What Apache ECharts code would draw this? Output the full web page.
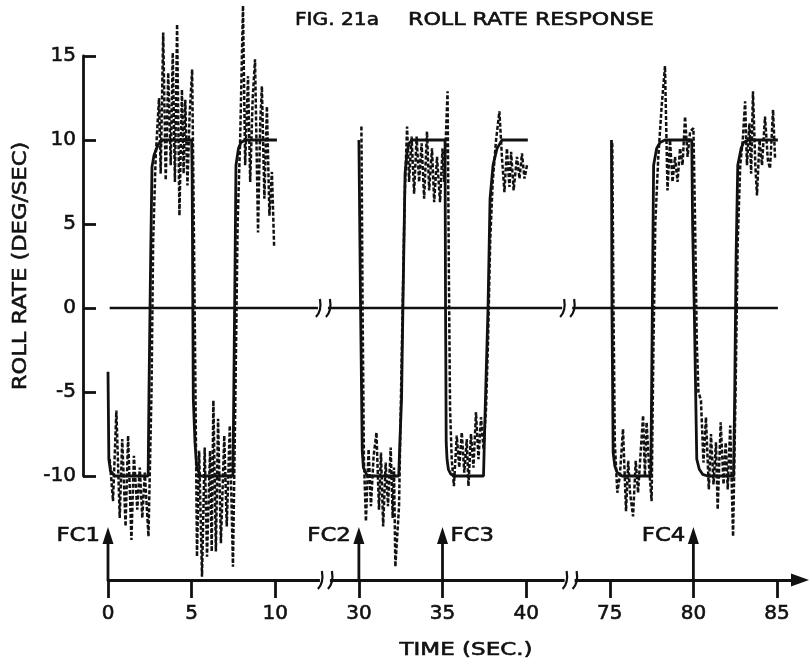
<!DOCTYPE html>
<html>
<head>
<meta charset="utf-8">
<script src="https://cdn.jsdelivr.net/npm/echarts@6.0.0/dist/echarts.min.js"></script>
<style>html,body{margin:0;padding:0;background:#fff}#c{width:812px;height:663px}</style>
</head>
<body>
<div id="c"></div>
<script>
// ---------------- data (time in seconds, roll rate in deg/sec) ----------------
const yTicks = [-10, -5, 0, 5, 10, 15];
const timeTicks = [0, 5, 10, 30, 35, 40, 75, 80, 85];

// command (solid) segments
const cmd1T = [0, 0.05, 0.15, 0.4, 2.4, 2.45, 2.55, 2.63, 2.75, 2.9, 3.05, 3.3, 5.0, 5.03, 5.1, 5.2, 5.3, 5.5, 7.47, 7.52, 7.6, 7.65, 7.8, 7.95, 8.2, 10.1];
const cmd1V = [-3.8, -9.0, -9.7, -10, -10, -5, 3, 8.4, 9.1, 9.5, 9.8, 10, 10, 8, -5.4, -8, -9.4, -10, -10, -5, 3, 8.5, 9.5, 9.85, 10, 10];
const cmd2T = [30.0, 30.1, 30.2, 30.27, 30.5, 32.38, 32.45, 32.55, 32.63, 32.76, 32.88, 33.0, 33.2, 35.15, 35.18, 35.22, 35.27, 35.35, 35.5, 35.75, 37.45, 37.55, 37.72, 37.84, 38.02, 38.26, 38.56, 40.1];
const cmd2V = [10, 0, -8.5, -9.5, -10, -10, -8, -5.4, 0, 8, 9.3, 9.8, 10, 10, 0, -8, -9.0, -9.6, -9.9, -10, -10, -6, 0, 6.5, 8.5, 9.5, 10, 10];
const cmd3T = [75.1, 75.13, 75.2, 75.3, 75.45, 75.73, 77.45, 77.5, 77.57, 77.62, 77.8, 78.0, 78.3, 79.9, 79.95, 80.05, 80.2, 80.35, 80.55, 80.85, 82.4, 82.47, 82.55, 82.65, 82.85, 83.0, 83.27, 85.05];
const cmd3V = [10, 0, -8.6, -9.4, -9.8, -10, -10, -5, 3, 8.5, 9.5, 9.85, 10, 10, 5, 0, -9, -9.6, -9.9, -10, -10, -5, 3, 8.5, 9.5, 9.85, 10, 10];

// response (dashed) segments
const rsp1T = [0.1,0.3,0.5,0.7,0.85,1.05,1.2,1.4,1.55,1.75,1.9,2.05,2.2,2.42,2.6,2.7,2.85,3.05,3.15,3.3,3.45,3.6,3.75,3.87,4.0,4.13,4.27,4.42,4.52,4.62,4.75,4.88,5.03,5.12,5.22,5.32,5.45,5.62,5.78,5.92,6.1,6.2,6.3,6.45,6.58,6.75,6.95,7.1,7.28,7.47,7.62,7.75,7.9,8.07,8.2,8.37,8.5,8.65,8.79,8.97,9.1,9.2,9.35,9.5,9.65,9.8,9.93];
const rsp1V = [-9.0,-11.5,-6.1,-12.5,-7.8,-13.0,-7.6,-13.8,-8.8,-12.0,-9.5,-12.5,-9.8,-13.6,-5,4,9,12.5,8.0,16.4,7.6,14.0,8.5,15.2,7.5,16.9,5.5,13.0,8.0,12.4,7.3,11.5,14.2,6,-4,-14.8,-8.5,-16.0,-8.3,-14.8,-8.5,-14.5,-5.5,-14.5,-6.6,-14.0,-7.6,-13.0,-7.0,-15.4,-5,5,10,18.0,8.5,13.8,7.5,12.5,14.8,4.5,11,13.2,6.5,12.0,5.5,8.1,3.7];
const rsp2T = [30.15,30.22,30.3,30.42,30.58,30.72,30.88,31.05,31.2,31.32,31.45,31.6,31.74,31.9,32.02,32.1,32.18,32.4,32.52,32.65,32.75,32.88,33.0,33.15,33.3,33.45,33.6,33.75,33.9,34.07,34.2,34.37,34.5,34.67,34.85,35.0,35.1,35.3,35.38,35.45,35.55,35.68,35.85,36.0,36.15,36.3,36.45,36.55,36.7,36.85,37.0,37.15,37.3,37.45,37.6,37.72,37.85,38.0,38.2,38.4,38.55,38.7,38.85,39.0,39.1,39.25,39.45,39.6,39.75,39.9,40.05];
const rsp2V = [10.8,0,-9,-12.7,-8.4,-11.8,-8.8,-7.4,-12.0,-8.6,-13.0,-9.2,-11.8,-8.3,-12.5,-9.5,-15.4,-11.8,-5,2,7,10.8,7.5,10.2,6.8,10.2,7.5,9.8,6.5,10.5,7.0,9.5,6.3,9.0,6.3,9.5,7.5,12.9,2,-6,-9,-10.6,-7.6,-9.5,-7.4,-9.8,-7.8,-10.6,-7.5,-9.5,-6.2,-9.0,-6.5,-8.4,-6.0,-2,4,7.5,10,11.7,9.0,6.9,9.5,7.2,9.3,7.0,9.0,7.7,9.2,7.7,8.5];
const rsp3T = [75.15,75.22,75.3,75.45,75.6,75.79,75.97,76.1,76.21,76.39,76.55,76.69,76.85,76.99,77.1,77.2,77.35,77.5,77.6,77.72,77.9,78.1,78.3,78.45,78.6,78.75,78.9,79.05,79.2,79.35,79.5,79.65,79.8,80.0,80.1,80.2,80.3,80.45,80.6,80.75,80.92,81.05,81.2,81.35,81.45,81.63,81.8,81.93,82.05,82.2,82.37,82.52,82.65,82.8,82.95,83.09,83.2,83.35,83.45,83.56,83.7,83.8,83.95,84.1,84.28,84.45,84.58,84.76,84.88];
const rsp3V = [9.8,0,-8,-11.0,-10.0,-7.2,-12.1,-9.1,-11.0,-12.4,-9.1,-11.0,-8.5,-6.4,-10.0,-6.8,-9.5,-11.5,-3,5,9,12,14.4,7.0,10.0,7.5,9.0,7.5,9.5,8.5,11.4,9.0,10.5,10.7,5,-2,-5,-5.5,-9.2,-6.5,-10.8,-7.5,-10.5,-8.0,-12.0,-6.8,-10.5,-8.0,-10.8,-7.0,-13.6,-5,4,8.5,10,12.3,8.5,11.0,8.0,12.9,8.5,6.7,10.0,8.5,11.4,8.8,8.3,11.8,8.9];

// zero reference line, flight condition markers
const zeroT = [0.1, 85.05];
const fcTimes = [0, 30, 35, 80];
const fcLabels = ['FC1', 'FC2', 'FC3', 'FC4'];

// ---------------- compressed time axis (two breaks) ----------------
function toD(t) { return t < 20 ? t : (t < 60 ? t - 15 : t - 45); }
function fromD(d) { return d < 12.9 ? d : (d < 27.5 ? d + 15 : d + 45); }
const zeroBreaksD = [12.85, 27.45];
const axisBreaksD = [12.97, 27.6];
const fcLabelRight = [false, false, true, false];

const FONT = '"DejaVu Sans", "Liberation Sans", sans-serif';
const INK = '#111';
const TB = 0.6; // slight text thickening to match the inked lettering

function lineSeries(T, V, dashed) {
  return {
    type: 'line', xAxisIndex: 0, yAxisIndex: 0,
    data: T.map((t, i) => [toD(t), V[i]]),
    showSymbol: false, symbol: 'none', clip: false, silent: true, animation: false,
    lineStyle: { color: INK, width: dashed ? 2.5 : 2.8, type: dashed ? [4, 2] : 'solid', cap: 'butt' },
    z: dashed ? 3 : 2
  };
}

function breakMark(x, y) {
  return {
    type: 'group',
    children: [
      { type: 'rect', shape: { x: x - 5, y: y - 4, width: 10, height: 8 }, style: { fill: '#fff' } },
      { type: 'bezierCurve', shape: { x1: x - 7, y1: y + 9, x2: x - 3, y2: y - 9, cpx1: x - 1, cpy1: y + 3 }, style: { stroke: INK, lineWidth: 2.2, fill: 'none' } },
      { type: 'bezierCurve', shape: { x1: x + 3, y1: y + 9, x2: x + 7, y2: y - 9, cpx1: x + 9, cpy1: y + 3 }, style: { stroke: INK, lineWidth: 2.2, fill: 'none' } }
    ]
  };
}

function gtext(text, x, y, size, sx, align, rot) {
  return {
    type: 'text', x: x, y: y, scaleX: sx, rotation: rot || 0, silent: true,
    style: { text: text, font: size + 'px ' + FONT, fill: INK, stroke: INK, lineWidth: TB,
      align: align, verticalAlign: 'middle', textAlign: align, textVerticalAlign: 'middle' }
  };
}

const option = {
  animation: false,
  backgroundColor: '#fff',
  grid: [
    { left: 83, right: 4, top: 56, height: 420, outerBoundsMode: 'none', containLabel: false },
    { left: 108, right: 12, top: 520, height: 60, outerBoundsMode: 'none', containLabel: false }
  ],
  xAxis: [
    { type: 'value', gridIndex: 0, min: -1.495, max: 41.85, show: false },
    {
      type: 'value', gridIndex: 1, min: 0, max: 41.375, position: 'bottom',
      axisLine: { show: true, onZero: false, lineStyle: { color: INK, width: 2.8 }, symbol: ['none', 'triangle'], symbolSize: [13, 18] },
      axisTick: { show: true, inside: false, length: 18, lineStyle: { color: INK, width: 2.8 }, customValues: timeTicks.map(toD) },
      axisLabel: { show: true, margin: 24, color: INK, fontSize: 20, fontFamily: FONT, textBorderColor: INK, textBorderWidth: TB,
        customValues: timeTicks.map(toD),
        formatter: v => String(Math.round(fromD(v))) },
      splitLine: { show: false }
    }
  ],
  yAxis: [
    {
      type: 'value', gridIndex: 0, min: -10, max: 15, interval: 5, position: 'left',
      axisLine: { show: true, onZero: false, lineStyle: { color: INK, width: 2.8 } },
      axisTick: { show: true, inside: true, length: 13, lineStyle: { color: INK, width: 2.8 } },
      axisLabel: { show: true, margin: 7, color: INK, fontSize: 20, fontFamily: FONT, textBorderColor: INK, textBorderWidth: TB },
      splitLine: { show: false }
    },
    { type: 'value', gridIndex: 1, min: 0, max: 1, show: false }
  ],
  graphic: [
    gtext('FIG. 21a', 295, 20, 18, 1.12, 'left'),
    gtext('ROLL RATE RESPONSE', 408, 20, 18, 1.23, 'left'),
    gtext('ROLL RATE (DEG/SEC)', 21, 266, 20, 1.13, 'center', Math.PI / 2),
    gtext('TIME (SEC.)', 466, 650, 18, 1.28, 'center')
  ],
  series: [
    {
      type: 'line', xAxisIndex: 0, yAxisIndex: 0,
      data: zeroT.map(t => [toD(t), 0]),
      showSymbol: false, symbol: 'none', silent: true, clip: false,
      lineStyle: { color: INK, width: 2.6 }, z: 1
    },
    lineSeries(cmd1T, cmd1V, false),
    lineSeries(cmd2T, cmd2V, false),
    lineSeries(cmd3T, cmd3V, false),
    lineSeries(rsp1T, rsp1V, true),
    lineSeries(rsp2T, rsp2V, true),
    lineSeries(rsp3T, rsp3V, true),
    {
      type: 'custom', xAxisIndex: 0, yAxisIndex: 0, silent: true, z: 6,
      data: zeroBreaksD.map(d => [d, 0]),
      renderItem: (params, api) => {
        const c = api.coord([api.value(0), api.value(1)]);
        return breakMark(c[0], c[1]);
      }
    },
    {
      type: 'custom', xAxisIndex: 1, yAxisIndex: 1, silent: true, z: 6,
      data: axisBreaksD.map(d => [d, 0]),
      renderItem: (params, api) => {
        const c = api.coord([api.value(0), api.value(1)]);
        return breakMark(c[0], c[1]);
      }
    },
    {
      type: 'custom', xAxisIndex: 1, yAxisIndex: 1, silent: true, z: 6,
      data: fcTimes.map(t => [toD(t), 0]),
      renderItem: (params, api) => {
        const i = params.dataIndex;
        const c = api.coord([api.value(0), 0]);
        const x = c[0], y0 = c[1];
        const tipY = y0 - 53, headLen = 17, headW = 5.5;
        const right = fcLabelRight[i];
        return {
          type: 'group',
          children: [
            { type: 'line', shape: { x1: x, y1: y0, x2: x, y2: tipY + headLen - 1 }, style: { stroke: INK, lineWidth: 2.8 } },
            { type: 'polygon', shape: { points: [[x - headW, tipY + headLen], [x + headW, tipY + headLen], [x, tipY]] }, style: { fill: INK } },
            {
              type: 'text', x: right ? x + 8 : x - 8, y: tipY + 9, scaleX: 1.2,
              style: { text: fcLabels[i], font: '19px ' + FONT, fill: INK, stroke: INK, lineWidth: TB,
                align: right ? 'left' : 'right', verticalAlign: 'middle',
                textAlign: right ? 'left' : 'right', textVerticalAlign: 'middle' }
            }
          ]
        };
      }
    }
  ]
};

const chart = echarts.init(document.getElementById('c'), null, { renderer: 'canvas', width: 812, height: 663 });
chart.setOption(option);
</script>
</body>
</html>
